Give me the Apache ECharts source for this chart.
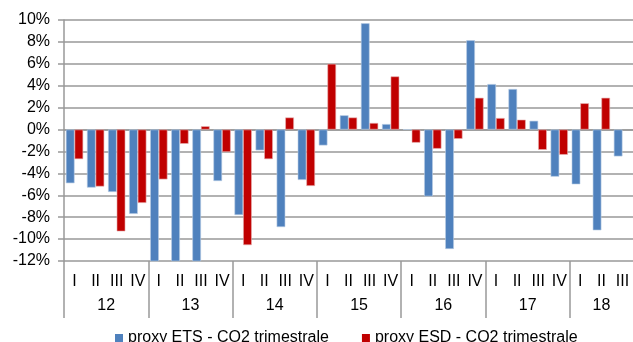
<!DOCTYPE html>
<html><head><meta charset="utf-8">
<script src="https://cdn.jsdelivr.net/npm/echarts@6/dist/echarts.min.js"></script>
<style>html,body{margin:0;padding:0;background:#fff;overflow:hidden}#c{width:633px;height:342px}</style>
</head><body><div id="c"></div>
<script>
const years = ['12','13','14','15','16','17','18'];
const quartersPerYear = [4,4,4,4,4,4,3];
const quarterNames = ['I','II','III','IV'];
const etsValues = [-4.9,-5.3,-5.7,-7.7, -14,-14,-14,-4.7, -7.8,-1.9,-8.9,-4.6, -1.45,1.3,9.7,0.5, 0,-6.1,-10.9,8.15, 4.15,3.7,0.8,-4.3, -5.0,-9.2,-2.45];
const esdValues = [-2.7,-5.2,-9.3,-6.7, -4.55,-1.3,0.3,-2.05, -10.55,-2.7,1.1,-5.15, 6.0,1.1,0.6,4.85, -1.2,-1.75,-0.85,2.9, 1.05,0.9,-1.85,-2.3, 2.4,2.9,null];
const yTicks = {min:-12, max:10, interval:2};

const categories = [];
const yearStarts = [], yearCenters = [];
let idx = 0;
years.forEach((y,i)=>{
  yearStarts.push(idx);
  yearCenters.push(idx + quartersPerYear[i]/2);
  for(let q=0;q<quartersPerYear[i];q++) categories.push(quarterNames[q]);
  idx += quartersPerYear[i];
});
const total = categories.length;
const font = 'Liberation Sans, Arial, sans-serif';
const chart = echarts.init(document.getElementById('c'));
chart.setOption({
  animation:false,
  textStyle:{fontFamily:font},
  grid:{left:64, top:20, width:583.2, height:241},
  legend:{left:110, top:325, icon:'rect', itemWidth:8, itemHeight:8, itemGap:33,
    itemStyle:{borderWidth:0},
    textStyle:{fontSize:16, color:'#000', fontFamily:font}},
  xAxis:[{
    type:'category', data:categories, position:'bottom',
    axisLine:{lineStyle:{color:'#999', width:1.5}},
    axisTick:{interval:0, length:27, lineStyle:{color:'#999', width:1.5}},
    axisLabel:{interval:0, margin:13, fontSize:16, color:'#000', fontFamily:font}
  },{
    type:'value', min:0, max:total, position:'bottom',
    axisLine:{show:false}, splitLine:{show:false},
    axisTick:{show:true, length:57, customValues:yearStarts, lineStyle:{color:'#999', width:1.5}},
    axisLabel:{margin:37, fontSize:16, color:'#000', fontFamily:font, customValues:yearCenters,
      formatter:(v)=>{const k=yearCenters.indexOf(v); return k>=0?years[k]:'';}}
  }],
  yAxis:{type:'value', min:yTicks.min, max:yTicks.max, interval:yTicks.interval,
    axisLine:{show:true, lineStyle:{color:'#999', width:1.5}},
    axisTick:{show:true, length:6, lineStyle:{color:'#999', width:1.5}},
    splitLine:{lineStyle:{color:'#999', width:1.5}},
    axisLabel:{formatter:v=>v+'%', margin:14, fontSize:16, color:'#000', fontFamily:font}},
  series:[
    {name:'proxy ETS - CO2 trimestrale', type:'bar', data:etsValues, xAxisIndex:0,
     barGap:'0%', barCategoryGap:'18%', clip:true,
     itemStyle:{color:'#4F81BD', borderColor:'#b8cce4', borderWidth:0.6}},
    {name:'proxy ESD - CO2 trimestrale', type:'bar', data:esdValues, xAxisIndex:0,
     barGap:'0%', barCategoryGap:'18%', clip:true,
     itemStyle:{color:'#C00000', borderColor:'#e6b0b0', borderWidth:0.6}}
  ]
});
</script></body></html>
